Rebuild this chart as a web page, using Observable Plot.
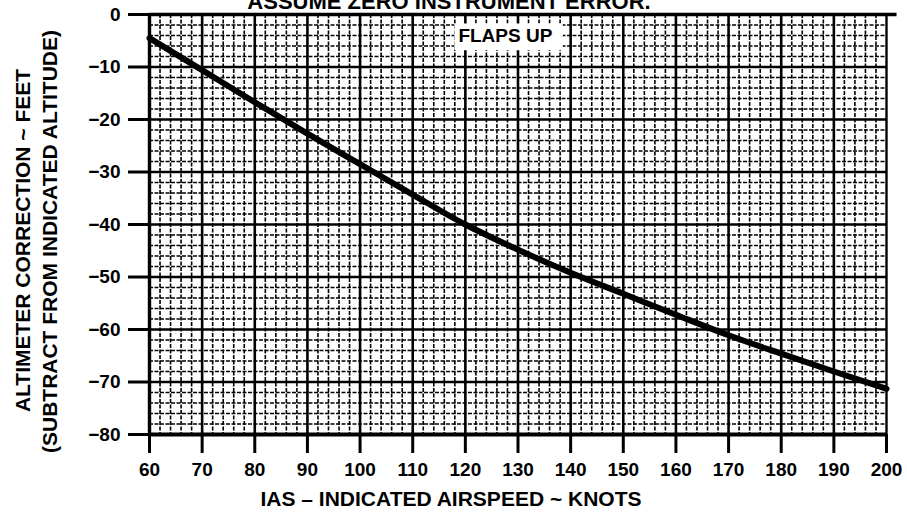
<!DOCTYPE html>
<html>
<head>
<meta charset="utf-8">
<script src="https://cdn.jsdelivr.net/npm/d3@7"></script>
<script src="https://cdn.jsdelivr.net/npm/@observablehq/plot@0.6"></script>
<style>
  html, body { margin: 0; padding: 0; background: #fff; overflow: hidden; }
</style>
</head>
<body>
<div id="chart"></div>
<script>
// ---- data ----
const airspeed = [60, 70, 80, 90, 100, 110, 120, 130, 140, 150, 160, 170, 180, 190, 200];
const correction = [-4.5, -10.6, -16.7, -22.7, -28.5, -34.3, -40.0, -44.8, -49.2, -53.2, -57.2, -61.1, -64.6, -68.0, -71.3];

const xTicks = [60, 70, 80, 90, 100, 110, 120, 130, 140, 150, 160, 170, 180, 190, 200];
const yTicks = [0, -10, -20, -30, -40, -50, -60, -70, -80];

const titleText = "ASSUME ZERO INSTRUMENT ERROR.";
const xLabel = "IAS \u2013 INDICATED AIRSPEED ~ KNOTS";
const yLabel1 = "ALTIMETER CORRECTION ~ FEET";
const yLabel2 = "(SUBTRACT FROM INDICATED ALTITUDE)";
const flapsLabel = ["FLAPS UP"];
const flapsPos = {x: 127.6, y: -4.0};
const flapsBox = [{x1: 118.0, x2: 138.6, y1: -1.8, y2: -6.9}];

const points = airspeed.map((a, i) => ({a, c: correction[i]}));

// grid lines (every 2 units minor, every 10 major)
const minorX = d3.range(62, 200, 2).filter(v => v % 10 !== 0);
const minorY = d3.range(-78, 0, 2).filter(v => v % 10 !== 0);
const majorX = d3.range(70, 200, 10);
const majorY = d3.range(-70, 0, 10);

const font = "'Liberation Sans', Arial, Helvetica, sans-serif";

const chart = Plot.plot({
  width: 907,
  height: 515,
  marginLeft: 149,
  marginRight: 21,
  marginTop: 14,
  marginBottom: 81,
  x: {domain: [60, 200]},
  y: {domain: [-80, 0]},
  style: {background: "#fff", fontFamily: font, color: "#000", overflow: "visible"},
  marks: [
    Plot.ruleX(minorX, {stroke: "#000", strokeWidth: 1.6, strokeDasharray: "4,1.5"}),
    Plot.ruleY(minorY, {stroke: "#000", strokeWidth: 1.6, strokeDasharray: "4,1.5"}),
    Plot.ruleX(majorX, {stroke: "#000", strokeWidth: 2.6}),
    Plot.ruleY(majorY, {stroke: "#000", strokeWidth: 2.6}),
    // frame
    Plot.ruleX([200], {stroke: "#000", strokeWidth: 2.4}),
    Plot.ruleX([60], {stroke: "#000", strokeWidth: 3.4}),
    Plot.ruleY([-80], {stroke: "#000", strokeWidth: 3.8}),
    Plot.ruleY([0], {x1: 60, x2: 202, stroke: "#000", strokeWidth: 3.4, clip: false}),
    // label box
    Plot.rect(flapsBox, {x1: "x1", x2: "x2", y1: "y1", y2: "y2", fill: "#fff"}),
    Plot.text(flapsLabel, {x: () => flapsPos.x, y: () => flapsPos.y, text: d => d,
      fontSize: 19, fontWeight: "bold", fill: "#000", fontFamily: font}),
    // curve
    Plot.line(points, {x: "a", y: "c", stroke: "#000", strokeWidth: 6, curve: "monotone-x"}),
    // axes
    Plot.axisX(xTicks, {tickSize: 19, tickPadding: 9, strokeWidth: 3, fontSize: 19,
      fontWeight: "bold", fontFamily: font, label: null}),
    Plot.axisY(yTicks, {tickSize: 21, tickPadding: 8, strokeWidth: 3, fontSize: 19,
      fontWeight: "bold", fontFamily: font, label: null,
      tickFormat: d => d === 0 ? "0" : "\u2212" + Math.abs(d)}),
    // titles
    Plot.text([titleText], {frameAnchor: "top", dx: -69, dy: -12.5, lineAnchor: "middle",
      textAnchor: "middle", fontSize: 22, fontWeight: "bold", fontFamily: font, fill: "#000"}),
    Plot.text([xLabel], {frameAnchor: "bottom", dx: -67, dy: 65, lineAnchor: "middle",
      textAnchor: "middle", fontSize: 21, fontWeight: "bold", fontFamily: font, fill: "#000"}),
    Plot.text([yLabel1], {frameAnchor: "left", rotate: -90, dx: -126, dy: 16, lineAnchor: "middle",
      textAnchor: "middle", fontSize: 21, fontWeight: "bold", fontFamily: font, fill: "#000"}),
    Plot.text([yLabel2], {frameAnchor: "left", rotate: -90, dx: -99, dy: 17, lineAnchor: "middle",
      textAnchor: "middle", fontSize: 21, fontWeight: "bold", fontFamily: font, fill: "#000"})
  ]
});

document.getElementById("chart").appendChild(chart);
</script>
</body>
</html>
